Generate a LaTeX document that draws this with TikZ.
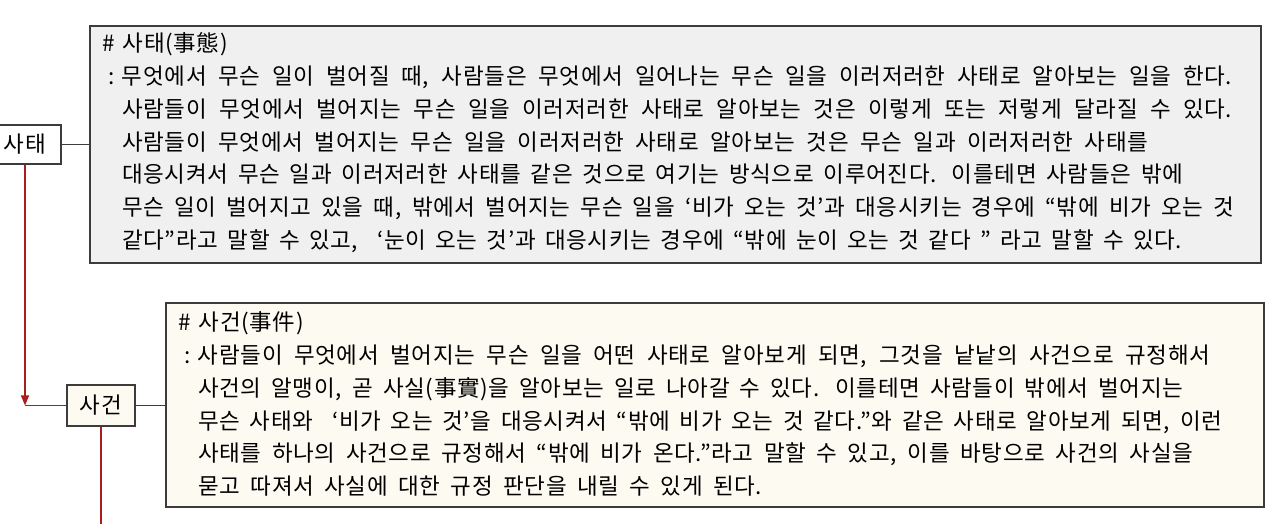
\documentclass[tikz,border=0pt]{standalone}
\usepackage{fontspec}
\setmainfont[LetterSpace=3]{Noto Sans CJK KR}
\usetikzlibrary{arrows.meta}
\definecolor{boxgray}{RGB}{240,240,240}
\definecolor{cream}{RGB}{253,251,241}
\definecolor{edgegray}{RGB}{60,60,60}
\definecolor{lnred}{RGB}{170,30,30}
\newcommand{\fitline}[2]{\hbox to #1bp{#2}}
\begin{document}
\begin{tikzpicture}[x=1bp,y=-1bp,
  txt/.style={anchor=base west,inner sep=0pt,text=black,
    font={\fontsize{22.5bp}{32bp}\selectfont\spaceskip=8bp plus 20bp minus 6bp\relax}},
  keybox/.style={draw=edgegray,line width=1.2bp,inner sep=0pt,font=\fontsize{22.5bp}{32bp}\selectfont},
  panel/.style={draw=edgegray,line width=1.2bp,inner sep=0pt},
  conn/.style={draw=edgegray,line width=1bp},
  redln/.style={draw=lnred,line width=1.3bp}]
\useasboundingbox (0,0) rectangle (1280,524);
% panels
\node[panel,fill=boxgray,minimum width=1171bp,minimum height=237bp] (box1) at (675.5,144.5) {};
\node[panel,fill=cream,minimum width=1098bp,minimum height=204bp] (box2) at (715,405) {};
% key nodes
\node[keybox,fill=white,minimum width=72bp,minimum height=39bp] (satae) at (25,144.5) {사태};
\node[keybox,fill=cream,minimum width=68bp,minimum height=41bp] (sageon) at (101,405.5) {사건};
% connectors
\draw[conn] (satae.east) -- (satae.east -| box1.west);
\draw[conn] (sageon.east) -- (sageon.east -| box2.west);
\coordinate (corner) at (satae.south |- sageon.west);
\coordinate (down) at (sageon.south |- 0,540);
\draw[redln,-{Triangle[width=8bp,length=10bp]}] (satae.south) -- (corner);
\draw[redln] (sageon.west) -- (corner);
\draw[redln] (sageon.south) -- (down);
% box1 text
\node[txt] (a0) at (102,52) {\# 사태(事態)};
\node[txt] (a1) at (108,84.7) {\fitline{1124}{:\kern7.5bp 무엇에서 무슨 일이 벌어질 때, 사람들은 무엇에서 일어나는 무슨 일을 이러저러한 사태로 알아보는 일을 한다.}};
\node[txt] (a2) at (122,117.4) {\fitline{1110}{사람들이 무엇에서 벌어지는 무슨 일을 이러저러한 사태로 알아보는 것은 이렇게 또는 저렇게 달라질 수 있다.}};
\node[txt] (a3) at (122,150.1) {\fitline{1026}{사람들이 무엇에서 벌어지는 무슨 일을 이러저러한 사태로 알아보는 것은 무슨 일과 이러저러한 사태를}};
\node[txt] (a4) at (122,182.8) {\fitline{1061}{대응시켜서 무슨 일과 이러저러한 사태를 같은 것으로 여기는 방식으로 이루어진다. 이를테면 사람들은 밖에}};
\node[txt] (a5) at (122,215.5) {\fitline{1112}{무슨 일이 벌어지고 있을 때, 밖에서 벌어지는 무슨 일을 ‘비가 오는 것’과 대응시키는 경우에 “밖에 비가 오는 것}};
\node[txt] (a6) at (122,248.2) {\fitline{1060}{같다”라고 말할 수 있고,~ ‘눈이 오는 것’과 대응시키는 경우에 “밖에 눈이 오는 것 같다 " 라고 말할 수 있다.}};
% box2 text
\node[txt] (b0) at (178,331) {\# 사건(事件)};
\node[txt] (b1) at (184,363.7) {\fitline{1026}{:\kern7.5bp 사람들이 무엇에서 벌어지는 무슨 일을 어떤 사태로 알아보게 되면, 그것을 낱낱의 사건으로 규정해서}};
\node[txt] (b2) at (198,396.4) {\fitline{985}{사건의 알맹이, 곧 사실(事實)을 알아보는 일로 나아갈 수 있다. 이를테면 사람들이 밖에서 벌어지는}};
\node[txt] (b3) at (198,429.1) {\fitline{1024}{무슨 사태와~ ‘비가 오는 것’을 대응시켜서 “밖에 비가 오는 것 같다.”와 같은 사태로 알아보게 되면, 이런}};
\node[txt] (b4) at (198,461.8) {\fitline{995}{사태를 하나의 사건으로 규정해서 “밖에 비가 온다.”라고 말할 수 있고, 이를 바탕으로 사건의 사실을}};
\node[txt] (b5) at (198,494.5) {\fitline{564}{묻고 따져서 사실에 대한 규정 판단을 내릴 수 있게 된다.}};
\end{tikzpicture}
\end{document}
